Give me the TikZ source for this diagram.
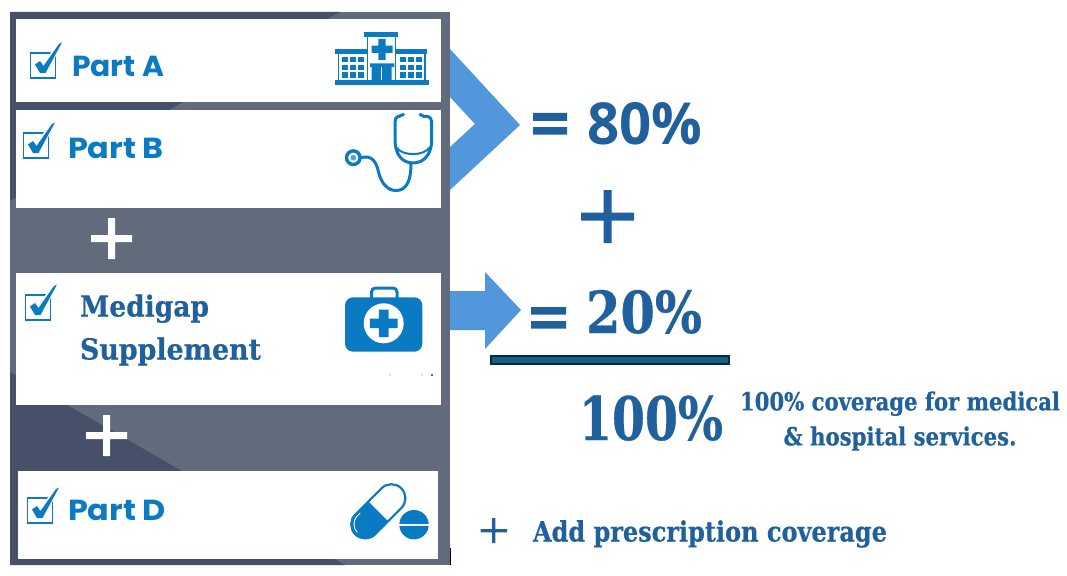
\documentclass[tikz,border=0pt]{standalone}
\usepackage{fontspec}
\usepackage{graphicx}
\setmainfont{Liberation Serif}
\newfontfamily\gothamish{Poppins}
\newfontfamily\slab{DejaVu Serif Condensed}[BoldFeatures={FakeBold=0.5}]
\newfontfamily\plainsans{Open Sans}
\newcommand{\fitw}[2]{\resizebox{#1pt}{\height}{#2}}
\definecolor{panelA}{HTML}{616B7C}
\definecolor{panelB}{HTML}{465069}
\definecolor{iconblue}{HTML}{0A7AC2}
\definecolor{txtblue}{HTML}{20609C}
\definecolor{arrowblue}{HTML}{5296DB}
\definecolor{barfill}{HTML}{156082}
\definecolor{barline}{HTML}{0C2A3F}
\tikzset{
  card/.style={fill=white,draw=none},
  label/.style={anchor=base west,inner sep=0pt,outer sep=0pt,text=txtblue},
  partlabel/.style={label,text=iconblue,font=\gothamish\bfseries\fontsize{29}{29}\selectfont},
  bigslab/.style={label,font=\slab\bfseries\fontsize{60}{60}\selectfont},
  smallslab/.style={label,font=\slab\bfseries\fontsize{28}{28}\selectfont},
  iconline/.style={draw=iconblue,line width=3pt,fill=none,line cap=round,line join=round},
  iconfill/.style={fill=iconblue,draw=none},
  chk/.pic={
    \draw[iconblue,line width=1.9pt,fill=white] (0,0) rectangle (25,25);
    \fill[white] (3,10) -- (10,6) -- (13,10) -- (27,-10) -- (33,-11) -- (15,22) -- (8,22) -- cycle;
    \fill[iconblue] (4.5,11.5) -- (9.5,8) -- (13,13) -- (28.5,-9) -- (31.5,-10.5) -- (15,20) -- (9.5,20) -- cycle;
  }
}
\begin{document}
\begin{tikzpicture}[x=1pt,y=-1pt]
\useasboundingbox (0,0) rectangle (1067,575);
\fill[white] (0,0) rectangle (1067,575);
% panel
\fill[panelA] (10,12) rectangle (450,565);
\fill[panelB] (10,12) -- (340,12) -- (10,201) -- cycle;
\fill[panelB] (10,372) -- (345,565) -- (10,565) -- cycle;
\draw[black,line width=1pt] (450.5,548) -- (450.5,565);
% cards
\fill[card] (16,19) rectangle (441,102);
\fill[card] (16,110) rectangle (441,208);
\fill[card] (16,273) rectangle (441,405);
\fill[card] (18,471) rectangle (438,559);
% arrows
\fill[arrowblue] (450,49) -- (520,125) -- (450,190) -- (450,147) -- (475,124) -- (450,97) -- cycle;
\fill[arrowblue] (450,291) -- (485,291) -- (485,272) -- (521,310) -- (485,349) -- (485,330) -- (450,330) -- cycle;
% check boxes
\pic at (30.5,53) {chk};
\pic at (23.5,133) {chk};
\pic at (25.5,295) {chk};
\pic at (27.5,498) {chk};
% labels on cards
\node[partlabel] (parta) at (72,77) {\fitw{92}{\textbf{Part A}}};
\node[partlabel] (partb) at (68,158) {\fitw{96}{\textbf{Part B}}};
\node[partlabel] (partd) at (68,520) {\fitw{98}{\textbf{Part D}}};
\node[label,font=\slab\bfseries\fontsize{29}{29}\selectfont] (medi) at (80,316.5) {\fitw{129}{Medigap}};
\node[label,font=\slab\bfseries\fontsize{29}{29}\selectfont] (supp) at (80,359.5) {\fitw{181}{Supplement}};
% white plus signs
\fill[white] (108,218) rectangle (115,259) (91,235) rectangle (132,242);
\fill[white] (103,415) rectangle (110,456) (86,432) rectangle (127,439);
% hospital
\fill[iconblue] (335,80) rectangle (428.7,85.3);
\fill[iconblue] (364.3,32.3) rectangle (398.3,37);
\fill[iconblue] (335,49) rectangle (367.3,53.7);
\fill[iconblue] (395,49) rectangle (427.3,53.7);
\draw[iconblue,line width=1.6pt] (367.5,37) -- (367.5,80) (395.5,37) -- (395.5,80);
\draw[iconblue,line width=1.2pt] (338.5,53) -- (338.5,80) (425,53) -- (425,80);
\foreach \x in {342.3,350.3,358.3,400,408,416}
  \foreach \y in {56.7,64.7,72}
    \fill[iconblue] (\x,\y) rectangle +(5.6,5.6);
\fill[iconblue] (378.3,39) rectangle (385.7,60) (371.5,45.6) rectangle (392.5,53);
\fill[iconblue] (370,63.3) rectangle (394.3,67) (371.7,67) rectangle (391.7,80);
\fill[white] (381,67) rectangle (382.4,80);
% stethoscope
\draw[iconblue,line width=3.4pt] (353.3,157.7) circle (6.8);
\fill[iconblue!70!white] (353.3,157.7) circle (2.8);
\draw[iconline] (361.5,157.5) .. controls (372,155) and (376,162) .. (378,170) .. controls (381,184) and (388,190.5) .. (396,190.5) .. controls (406,190.5) and (411,182) .. (411,163);
\draw[iconline] (403.5,114.5) .. controls (401,114.5) and (400,116.5) .. (399,116.5) -- (398,116.5) .. controls (396,117) and (395,119) .. (395,122) -- (395,140) .. controls (395,154) and (402,163) .. (413,163) .. controls (424,163) and (431.7,154) .. (431.7,140) -- (431.7,122) .. controls (431.7,119) and (430,117) .. (428,116.5) -- (424,116.5) .. controls (423,116) and (421,114.5) .. (420,114.5);
\draw[iconblue,line width=2pt] (396,147) .. controls (402,156.5) and (424,156.5) .. (430,147);
% medical kit
\draw[iconblue,line width=3pt,rounded corners=4pt] (371.5,298) -- (371.5,288) -- (397,288) -- (397,298);
\fill[iconblue,rounded corners=8pt] (345,297.3) rectangle (422.3,351.7);
\fill[white] (383.7,323.3) circle (20);
\fill[iconblue] (378.9,309.5) rectangle (388.5,337.2) (369.9,318.5) rectangle (397.6,328.1);
\fill[gray!70] (389,374.6) rectangle (391,375.4) (421,374.6) rectangle (423,375.4);
\fill[black!80] (432,375) circle (1.1);
% pills
\begin{scope}[shift={(378.3,511.3)},rotate=45]
  \begin{scope}
    \clip (-34,-16) rectangle (0,16);
    \fill[iconblue,rounded corners=14.5pt] (-33,-14.5) rectangle (33,14.5);
  \end{scope}
  \draw[iconblue,line width=2.2pt,rounded corners=14pt] (-32.5,-14) rectangle (32.5,14);
  \draw[white,line width=.9pt] (-14,-11.6) -- (-19,-11.6) .. controls (-24,-11.6) and (-29.8,-6) .. (-29.8,0);
\end{scope}
\fill[iconblue] (414,524.7) circle (14.7);
\fill[white] (398,523.7) rectangle (430,525.9);
% right column
\fill[txtblue] (533,113) rectangle (567,121) (533,127) rectangle (567,134.5);
\node[label,font=\plainsans\bfseries\fontsize{58}{58}\selectfont] (eighty) at (587,145) {\fitw{115}{\textbf{80\%}}};
\fill[txtblue] (603.5,190) rectangle (611.5,243) (581,212.5) rectangle (634,220.5);
\fill[txtblue] (531,307) rectangle (566,314.5) (531,321) rectangle (566,328.5);
\node[bigslab,font=\slab\bfseries\fontsize{58}{58}\selectfont] (twenty) at (586,333) {\fitw{116}{20\%}};
\draw[barline,fill=barfill,line width=2pt] (491,356) rectangle (729,364);
\node[bigslab] (hundred) at (579,440) {\fitw{144}{100\%}};
\node[anchor=center,inner sep=0pt,outer sep=0pt,text=txtblue,align=center,font=\slab\bfseries\fontsize{25}{35}\selectfont] (cov) at (900,421) {\fitw{320}{100\% coverage for medical}\\ \fitw{233}{\& hospital services.}};
\fill[txtblue] (492,518) rectangle (495.3,543) (480.5,529) rectangle (507,532.3);
\node[smallslab] (rx) at (533,541.5) {\fitw{354}{Add prescription coverage}};
\end{tikzpicture}
\end{document}
